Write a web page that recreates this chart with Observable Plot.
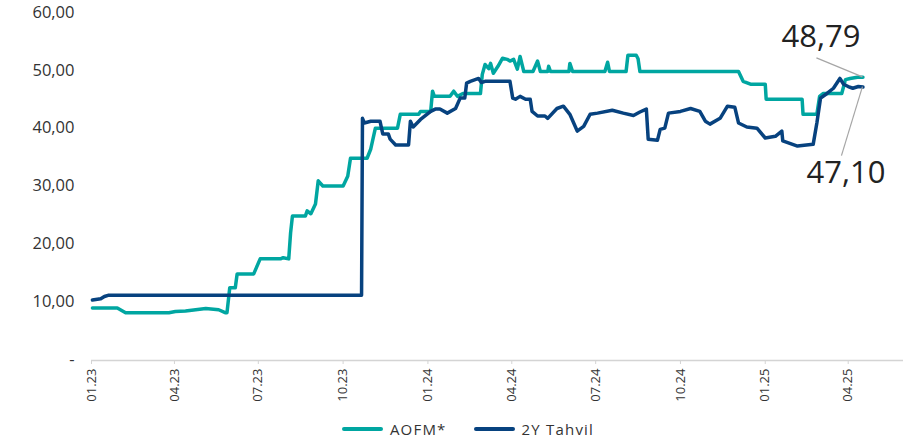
<!DOCTYPE html>
<html><head><meta charset="utf-8">
<script src="https://cdn.jsdelivr.net/npm/d3@7"></script>
<script src="https://cdn.jsdelivr.net/npm/@observablehq/plot@0.6"></script>
<style>
body{margin:0;background:#fff;font-family:"Open Sans",sans-serif;}
#chart svg{display:block;}
#legend{display:flex;justify-content:center;align-items:center;gap:27px;font-size:15px;color:#333;letter-spacing:1.2px;padding-left:28px;height:33px;}
#legend .item{display:flex;align-items:center;gap:7px;}
#legend .sw{width:41px;height:4px;border-radius:2px;display:inline-block;}
</style></head><body>
<div id="chart"></div>
<div id="legend"></div>
<script>
const seriesNames = ["AOFM*", "2Y Tahvil"];
const seriesColors = ["#00a6a1", "#07427f"];

const aofmDates = ["2023-01-02","2023-01-29","2023-02-07","2023-03-26","2023-04-02","2023-04-13","2023-04-24","2023-05-05","2023-05-19","2023-05-26","2023-05-28","2023-05-31","2023-06-06","2023-06-08","2023-06-26","2023-07-03","2023-07-25","2023-07-28","2023-08-03","2023-08-05","2023-08-07","2023-08-21","2023-08-23","2023-08-27","2023-09-01","2023-09-04","2023-09-09","2023-10-01","2023-10-06","2023-10-09","2023-10-27","2023-10-31","2023-11-05","2023-11-29","2023-12-02","2023-12-22","2023-12-24","2024-01-04","2024-01-06","2024-01-08","2024-01-25","2024-01-29","2024-02-02","2024-02-08","2024-02-27","2024-02-29","2024-03-03","2024-03-07","2024-03-09","2024-03-12","2024-03-17","2024-03-22","2024-03-27","2024-03-30","2024-04-03","2024-04-07","2024-04-10","2024-04-14","2024-04-24","2024-04-29","2024-05-02","2024-05-10","2024-05-11","2024-05-13","2024-06-02","2024-06-03","2024-06-06","2024-07-11","2024-07-14","2024-07-16","2024-08-03","2024-08-05","2024-08-14","2024-08-16","2024-08-18","2024-12-03","2024-12-08","2024-12-16","2025-01-01","2025-01-02","2025-02-10","2025-02-11","2025-02-26","2025-03-01","2025-03-05","2025-03-25","2025-03-29","2025-04-03","2025-04-11","2025-04-17"];
const aofmValues = [8.9,8.9,8.1,8.1,8.3,8.4,8.6,8.8,8.6,8.1,8.1,12.4,12.4,14.8,14.8,17.4,17.4,17.6,17.4,21.9,24.8,24.8,25.7,25.2,26.9,30.9,30.0,30.0,31.7,34.8,34.8,36.4,40.0,40.0,42.4,42.4,42.9,42.9,46.4,45.5,45.5,46.4,45.5,46.0,46.0,49.3,51.0,50.3,51.2,49.5,50.7,52.1,51.9,51.6,51.9,50.2,52.4,49.8,49.8,51.6,49.8,49.8,50.7,49.8,49.8,51.2,49.8,49.8,51.4,49.8,49.8,52.6,52.6,52.0,49.8,49.8,48.1,47.6,47.6,45.0,45.0,42.4,42.4,45.5,46.0,46.0,48.4,48.6,48.8,48.79];

const tahvilDates = ["2023-01-02","2023-01-11","2023-01-15","2023-01-19","2023-10-21","2023-10-22","2023-10-24","2023-10-31","2023-11-10","2023-11-13","2023-11-19","2023-11-21","2023-11-27","2023-12-11","2023-12-13","2023-12-16","2023-12-24","2024-01-04","2024-01-09","2024-01-14","2024-01-22","2024-01-31","2024-02-05","2024-02-10","2024-02-12","2024-02-16","2024-02-25","2024-02-28","2024-03-03","2024-03-30","2024-04-02","2024-04-05","2024-04-10","2024-04-16","2024-04-21","2024-04-23","2024-04-29","2024-05-07","2024-05-10","2024-05-20","2024-05-27","2024-06-03","2024-06-11","2024-06-18","2024-06-25","2024-07-03","2024-07-19","2024-07-31","2024-08-11","2024-08-18","2024-08-25","2024-08-27","2024-09-06","2024-09-09","2024-09-14","2024-09-18","2024-10-01","2024-10-12","2024-10-22","2024-10-28","2024-11-02","2024-11-13","2024-11-21","2024-11-29","2024-12-03","2024-12-12","2024-12-23","2025-01-01","2025-01-12","2025-01-19","2025-01-20","2025-02-05","2025-02-22","2025-02-26","2025-03-02","2025-03-09","2025-03-16","2025-03-23","2025-03-27","2025-04-01","2025-04-06","2025-04-12","2025-04-17"];
const tahvilValues = [10.3,10.5,10.9,11.1,11.1,41.7,40.9,41.2,41.2,39.0,39.0,38.1,37.1,37.1,41.2,40.2,41.5,42.9,43.3,43.3,42.6,43.4,45.2,45.2,47.8,48.1,48.6,47.9,48.1,48.1,45.2,45.0,45.5,45.0,45.0,42.9,42.1,42.1,41.7,43.4,43.8,42.4,39.5,40.3,42.4,42.6,43.1,42.6,42.2,42.8,43.3,38.1,37.9,39.8,40.0,42.6,42.9,43.4,42.9,41.2,40.7,41.7,43.8,43.6,40.9,40.2,40.0,38.3,38.6,39.5,37.8,36.9,37.2,40.9,45.2,46.0,46.9,48.6,47.6,47.2,46.9,47.2,47.10];

const xTickDates = ["2023-01-01","2023-04-01","2023-07-01","2023-10-01","2024-01-01","2024-04-01","2024-07-01","2024-10-01","2025-01-01","2025-04-01"];
const yTicks = [0,10,20,30,40,50,60];
const xDomain = ["2023-01-01","2025-05-31"];

const parse = d3.utcParse("%Y-%m-%d");
const rows = [];
aofmDates.forEach((d,i)=>rows.push({date:parse(d), value:aofmValues[i], series:seriesNames[0]}));
tahvilDates.forEach((d,i)=>rows.push({date:parse(d), value:tahvilValues[i], series:seriesNames[1]}));
const lastA = rows.filter(r=>r.series===seriesNames[0]).at(-1);
const lastT = rows.filter(r=>r.series===seriesNames[1]).at(-1);
const fmt = v => v === 0 ? "-" : v.toFixed(2).replace(".", ",");

const plot = Plot.plot({
  width: 908, height: 412,
  marginLeft: 91, marginRight: 5, marginTop: 12, marginBottom: 53,
  style: {fontFamily: "Open Sans, sans-serif", background: "#fff", overflow: "visible"},
  x: {type: "utc", domain: xDomain.map(parse), label: null},
  y: {domain: [0, 60], label: null},
  color: {domain: seriesNames, range: seriesColors},
  marks: [
    Plot.ruleY([0], {stroke: "#d4d4d4", strokeWidth: 1.3, dy: 1}),
    Plot.axisX({ticks: xTickDates.map(parse), tickFormat: d3.utcFormat("%m.%y"), tickRotate: -90, tickSize: 4, tickPadding: 4, stroke: "#d4d4d4", fill: "#333", fontSize: 13, dy: 1, label: null, style: {letterSpacing: "0.6px"}}),
    Plot.axisY({ticks: yTicks, tickFormat: fmt, tickSize: 0, tickPadding: 17, fill: "#333", fontSize: 16.5, label: null, style: {letterSpacing: "1.8px"}}),
    Plot.line(rows, {x: "date", y: "value", z: "series", stroke: "series", strokeWidth: 3.5, curve: "linear", strokeLinejoin: "round"}),
    Plot.text([lastA], {x: "date", y: "value", text: d => fmt(d.value), dx: -42, dy: -40, fontSize: 31, fill: "#222", textAnchor: "middle", style: {letterSpacing: "3px"}}),
    Plot.text([lastT], {x: "date", y: "value", text: d => fmt(d.value), dx: -17, dy: 86, fontSize: 31, fill: "#222", textAnchor: "middle", style: {letterSpacing: "3px"}})
  ]
});

// leader lines from each label to the last point
const sx = plot.scale("x"), sy = plot.scale("y");
const svg = d3.select(plot.tagName === "svg" ? plot : plot.querySelector("svg"));
const leaders = [
  {p: lastA, ox: -46, oy: -19},
  {p: lastT, ox: -21, oy: 69}
];
for (const l of leaders) {
  const px = sx.apply(l.p.date), py = sy.apply(l.p.value);
  svg.append("line").attr("x1", px + l.ox).attr("y1", py + l.oy).attr("x2", px).attr("y2", py)
    .attr("stroke", "#a6a6a6").attr("stroke-width", 1.2);
}
document.getElementById("chart").append(plot);

const legend = document.getElementById("legend");
seriesNames.forEach((n,i)=>{
  const it = document.createElement("div"); it.className = "item";
  const sw = document.createElement("span"); sw.className = "sw"; sw.style.background = seriesColors[i];
  const t = document.createElement("span"); t.textContent = n;
  it.append(sw, t); legend.append(it);
});
</script>
</body></html>
